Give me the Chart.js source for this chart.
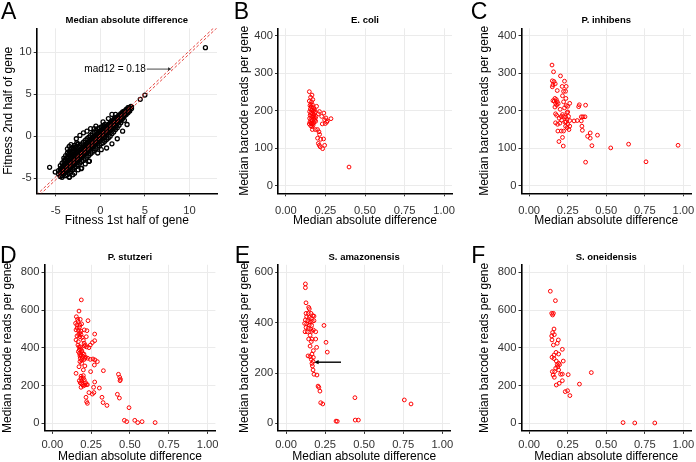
<!DOCTYPE html>
<html lang="en">
<head>
<meta charset="UTF-8">
<title>Median absolute difference vs barcode reads</title>
<script src="https://cdn.jsdelivr.net/npm/chart.js"></script>
<style>
  body { margin: 0; background: #fff; }
  .wrap { position: relative; width: 696px; height: 462px; }
  .wrap canvas { position: absolute; }
</style>
</head>
<body>
<div class="wrap">
  <canvas id="panelA" width="232" height="231" style="left:0;top:0"></canvas>
  <canvas id="panelB" width="232" height="231" style="left:232px;top:0"></canvas>
  <canvas id="panelC" width="232" height="231" style="left:464px;top:0"></canvas>
  <canvas id="panelD" width="232" height="231" style="left:0;top:231px"></canvas>
  <canvas id="panelE" width="232" height="231" style="left:232px;top:231px"></canvas>
  <canvas id="panelF" width="232" height="231" style="left:464px;top:231px"></canvas>
</div>
<script>
// tick values and labels
const fitTicks = [-5, 0, 5, 10];
const fitTickLabels = ['-5', '0', '5', '10'];
const madTicks = [0, 0.25, 0.5, 0.75, 1];
const madTickLabels = ['0.00', '0.25', '0.50', '0.75', '1.00'];
const reads400Ticks = [0, 100, 200, 300, 400];
const reads600Ticks = [0, 200, 400, 600];
const reads800Ticks = [0, 200, 400, 600, 800];

// panel A extras
const mad12 = 0.18;
const diagX = [-8, 14];
const madNote = [[5.1, 8], [8, 8]];      // label end -> diagonal
// panel E arrow
const amazonArrow = [[0.352, 243], [0.18, 243]];

// A: fitness 1st half vs 2nd half of gene
const fitnessPoints = [
  [-4.7,-4.5],[-4.7,-4.1],
  [-4.5,-4.4],[-4.5,-4.8],[-4.5,-3.9],[-4.5,-3.5],
  [-4.3,-4.2],[-4.3,-4.7],[-4.3,-3.7],[-4.3,-3.2],[-4.3,-4.9],
  [-4.1,-4.0],[-4.1,-4.5],[-4.1,-3.5],[-4.1,-3.0],[-4.1,-2.6],
  [-3.9,-3.8],[-3.9,-4.3],[-3.9,-3.3],[-3.9,-2.8],[-3.9,-2.3],[-3.9,-4.7],
  [-3.7,-3.6],[-3.7,-4.1],[-3.7,-3.1],[-3.7,-2.5],[-3.7,-2.0],[-3.7,-4.6],[-3.7,-1.5],
  [-3.5,-3.4],[-3.5,-3.9],[-3.5,-2.9],[-3.5,-2.3],[-3.5,-1.8],[-3.5,-4.4],[-3.5,-1.2],[-3.5,-4.9],
  [-3.3,-3.2],[-3.3,-3.7],[-3.3,-2.7],[-3.3,-2.1],[-3.3,-1.5],[-3.3,-4.2],[-3.3,-1.0],
  [-3.1,-3.0],[-3.1,-3.5],[-3.1,-2.5],[-3.1,-1.9],[-3.1,-1.3],[-3.1,-4.0],[-3.1,-4.6],
  [-2.9,-2.8],[-2.9,-3.3],[-2.9,-2.3],[-2.9,-1.7],[-2.9,-1.1],[-2.9,-3.8],[-2.9,-4.4],
  [-2.7,-2.6],[-2.7,-3.1],[-2.7,-2.1],[-2.7,-1.5],[-2.7,-0.3],[-2.7,-3.6],
  [-2.5,-2.4],[-2.5,-2.9],[-2.5,-1.9],[-2.5,-1.3],[-2.5,-0.9],[-2.5,-3.4],[-2.5,-4.0],
  [-2.3,-2.2],[-2.3,-2.7],[-2.3,-1.7],[-2.3,-1.1],[-2.3,-3.2],[-2.3,0.1],
  [-2.1,-2.0],[-2.1,-2.5],[-2.1,-1.5],[-2.1,-0.9],[-2.1,-3.0],[-2.1,-3.8],
  [-1.9,-1.8],[-1.9,-2.3],[-1.9,-1.3],[-1.9,-0.7],[-1.9,-2.9],[-1.9,0.4],
  [-1.7,-1.6],[-1.7,-2.1],[-1.7,-1.1],[-1.7,-0.5],[-1.7,-2.7],[-1.7,-3.3],
  [-1.5,-1.4],[-1.5,-1.9],[-1.5,-0.9],[-1.5,-0.3],[-1.5,-2.5],[-1.5,0.6],
  [-1.3,-1.2],[-1.3,-1.7],[-1.3,-0.7],[-1.3,-0.1],[-1.3,-2.3],[-1.3,-3.0],
  [-1.1,-1.0],[-1.1,-1.5],[-1.1,-0.5],[-1.1,0.1],[-1.1,-2.1],[-1.1,0.9],
  [-0.9,-0.8],[-0.9,-1.3],[-0.9,-0.3],[-0.9,0.3],[-0.9,-1.9],
  [-0.7,-0.6],[-0.7,-1.1],[-0.7,-0.1],[-0.7,0.5],[-0.7,-1.7],[-0.7,0.9],
  [-0.5,-0.4],[-0.5,-0.9],[-0.5,0.1],[-0.5,0.7],[-0.5,-1.5],[-0.5,1.2],
  [-0.3,-0.2],[-0.3,-0.7],[-0.3,0.3],[-0.3,0.9],[-0.3,-1.3],[-0.3,-2.0],
  [-0.1,0.0],[-0.1,-0.5],[-0.1,0.5],[-0.1,1.0],[-0.1,-1.1],
  [0.1,0.2],[0.1,-0.3],[0.1,0.7],[0.1,1.1],[0.1,-0.9],[0.1,-1.6],
  [0.3,0.3],[0.3,-0.2],[0.3,0.8],[0.3,1.2],[0.3,-0.8],[0.3,1.7],
  [0.5,0.5],[0.5,0.0],[0.5,1.0],[0.5,-0.6],[0.5,1.4],
  [0.7,0.7],[0.7,0.2],[0.7,1.2],[0.7,-0.4],[0.7,-1.4],
  [0.9,0.9],[0.9,0.4],[0.9,1.4],[0.9,-0.2],[0.9,2.1],
  [1.1,1.1],[1.1,0.6],[1.1,1.6],[1.1,0.0],
  [1.3,1.3],[1.3,0.8],[1.3,1.8],[1.3,0.3],[1.3,2.6],[1.3,-0.9],
  [1.5,1.5],[1.5,1.0],[1.5,2.0],[1.5,0.5],
  [1.7,1.7],[1.7,1.2],[1.7,2.2],[1.7,0.8],[1.7,2.6],
  [1.9,1.9],[1.9,1.5],[1.9,2.3],[1.9,1.0],[1.9,-0.3],
  [2.1,2.1],[2.1,1.7],[2.1,2.5],[2.1,1.3],
  [2.3,2.3],[2.3,1.9],[2.3,2.7],[2.3,1.6],
  [2.5,2.5],[2.5,2.1],[2.5,2.9],[2.5,0.6],
  [2.7,2.7],[2.7,2.4],[2.7,3.0],[2.7,1.9],
  [2.9,2.9],[2.9,2.6],[2.9,3.2],
  [3.1,3.1],[3.1,2.8],[3.1,3.4],[3.0,1.4],
  [3.3,3.3],[3.3,3.0],[3.43,3.56],
  [3.5,3.5],[3.5,3.3],
  // denser core
  [-4.4,-4.5],[-4.4,-3.9],[-4.4,-4.1],[-4.2,-4.3],[-4.2,-3.6],[-4.2,-4.0],
  [-4.0,-4.2],[-4.0,-3.3],[-4.0,-3.8],[-4.0,-2.8],[-3.8,-4.0],[-3.8,-3.2],[-3.8,-3.6],[-3.8,-2.6],
  [-3.6,-3.8],[-3.6,-3.0],[-3.6,-3.4],[-3.6,-2.2],[-3.4,-3.6],[-3.4,-2.8],[-3.4,-3.2],[-3.4,-2.0],
  [-3.2,-3.4],[-3.2,-2.6],[-3.2,-3.0],[-3.2,-1.8],[-3.0,-3.2],[-3.0,-2.4],[-3.0,-2.8],[-3.0,-1.5],
  [-2.8,-3.0],[-2.8,-2.2],[-2.8,-2.6],[-2.8,-1.3],[-2.6,-2.8],[-2.6,-2.0],[-2.6,-2.4],[-2.6,-1.0],
  [-2.4,-2.6],[-2.4,-1.8],[-2.4,-2.2],[-2.2,-2.4],[-2.2,-1.6],[-2.2,-2.0],
  [-2.0,-2.2],[-2.0,-1.4],[-2.0,-1.8],[-1.8,-2.0],[-1.8,-1.2],[-1.8,-1.6],
  [-1.6,-1.8],[-1.6,-1.0],[-1.6,-1.4],[-1.4,-1.6],[-1.4,-0.8],[-1.4,-1.2],
  [-1.2,-1.4],[-1.2,-0.6],[-1.2,-1.0],[-1.0,-1.2],[-1.0,-0.4],[-1.0,-0.8],
  [-0.8,-1.0],[-0.8,-0.2],[-0.8,-0.6],[-0.6,-0.8],[-0.6,0.0],[-0.6,-0.4],
  [-0.4,-0.6],[-0.4,0.2],[-0.4,-0.2],[-0.2,-0.4],[-0.2,0.4],[-0.2,0.0],
  [0.0,-0.2],[0.0,0.6],[0.0,0.2],[0.2,0.0],[0.2,0.8],[0.2,0.4],
  [0.4,0.2],[0.4,1.0],[0.4,0.6],[0.6,0.4],[0.6,1.1],[0.6,0.8],
  [0.8,0.6],[0.8,1.3],[0.8,1.0],[1.0,0.8],[1.0,1.4],[1.0,1.2],
  [1.2,1.0],[1.2,1.6],[1.2,1.4],[1.4,1.2],[1.4,1.8],[1.4,1.6],
  [1.6,1.4],[1.6,2.0],[1.6,1.8],[1.8,1.6],[1.8,2.1],[1.8,2.0],
  [2.0,1.8],[2.0,2.3],[2.0,2.2],[2.2,2.0],[2.2,2.5],[2.4,2.2],[2.4,2.7],
  [2.6,2.4],[2.6,2.9],[2.8,2.6],[2.8,3.0],[3.0,2.8],[3.0,3.2],[3.2,3.0],[3.2,3.4],
  // outliers
  [4.48,4.4],[5.0,4.9],[11.8,10.55],[-5.7,-3.7],[-5.07,-4.27],[-2.65,-0.8],
  [-2.16,-3.87],[-3.47,-4.86],[-1.23,-2.96]
];

// B: E. coli
const ecoliPoints = [
  [0.148,251],[0.156,236],[0.165,242],[0.148,226],[0.158,217],[0.170,230],[0.162,224],
  [0.152,214],[0.160,210],[0.168,216],[0.175,208],[0.155,205],[0.165,202],[0.172,198],
  [0.180,204],[0.150,198],[0.158,194],[0.168,192],[0.176,190],[0.185,196],[0.153,188],
  [0.162,185],[0.170,183],[0.178,186],[0.150,180],[0.158,176],[0.166,174],[0.175,178],
  [0.183,175],[0.152,170],[0.160,167],[0.168,165],[0.176,168],[0.157,160],[0.165,158],
  [0.172,162],[0.190,185],[0.188,172],[0.194,212],[0.179,201],[0.205,192],[0.212,198],
  [0.240,194],[0.226,185],[0.253,181],[0.285,179],[0.262,173],[0.249,166],[0.230,165],
  [0.245,176],[0.258,170],[0.186,180],[0.162,166],[0.148,165],[0.167,150],[0.186,150],
  [0.200,150],[0.209,144],[0.213,137],[0.200,127],[0.220,124],[0.238,125],[0.205,113],
  [0.211,108],[0.245,108],[0.217,104],[0.232,99],[0.399,50]
];

// C: P. inhibens
const inhibensPoints = [
  [0.148,322],[0.158,304],[0.150,280],[0.161,278],[0.154,269],[0.150,264],[0.169,272],
  [0.203,293],[0.229,279],[0.214,265],[0.240,265],[0.223,252],[0.182,254],[0.216,240],
  [0.236,252],[0.167,233],[0.176,230],[0.163,226],[0.182,224],[0.154,227],[0.171,220],
  [0.178,215],[0.188,219],[0.167,210],[0.223,224],[0.238,233],[0.263,220],[0.240,214],
  [0.229,208],[0.250,212],[0.201,204],[0.171,192],[0.178,188],[0.216,190],[0.208,185],
  [0.223,185],[0.236,183],[0.250,197],[0.246,177],[0.240,171],[0.263,174],[0.250,164],
  [0.236,159],[0.263,159],[0.171,168],[0.184,164],[0.199,167],[0.186,146],[0.208,146],
  [0.223,146],[0.246,155],[0.193,118],[0.221,106],[0.216,129],[0.255,185],[0.258,150],
  [0.232,170],[0.195,180],[0.210,175],[0.245,195],
  [0.291,173],[0.312,174],[0.321,211],[0.325,216],[0.366,215],[0.338,184],[0.349,184],
  [0.362,184],[0.338,173],[0.342,159],[0.345,148],[0.396,141],[0.379,132],[0.396,127],
  [0.443,135],[0.407,107],[0.366,63],[0.529,101],[0.645,111],[0.758,64],[0.966,108]
];

// D: P. stutzeri
const stutzeriPoints = [
  [0.187,654],[0.172,595],[0.230,544],[0.155,565],[0.163,551],[0.180,551],[0.150,530],
  [0.159,521],[0.178,521],[0.189,527],[0.153,495],[0.168,491],[0.185,489],[0.206,495],
  [0.223,491],[0.159,463],[0.178,459],[0.219,459],[0.153,442],[0.168,433],[0.273,473],
  [0.273,438],[0.258,428],[0.245,415],[0.236,401],[0.206,410],[0.180,406],[0.174,389],
  [0.189,380],[0.204,367],[0.178,357],[0.193,345],[0.210,345],[0.228,345],[0.245,339],
  [0.262,341],[0.275,336],[0.290,327],[0.271,309],[0.178,327],[0.189,318],[0.210,304],
  [0.200,283],[0.172,300],[0.247,274],[0.329,279],[0.153,265],[0.200,253],[0.185,239],
  [0.206,230],[0.273,219],[0.174,226],[0.189,212],[0.210,203],[0.226,205],[0.185,191],
  [0.200,198],[0.266,191],[0.303,187],[0.268,163],[0.236,163],[0.258,155],[0.217,138],
  [0.221,115],[0.226,106],[0.320,138],[0.327,110],[0.352,95],[0.426,260],[0.434,244],
  [0.439,233],[0.436,226],[0.419,154],[0.432,134],[0.494,83],[0.464,16],[0.479,9],
  [0.531,16],[0.550,4],[0.578,9],[0.662,4],
  [0.165,415],[0.172,405],[0.182,395],[0.190,385],[0.175,370],[0.185,362],[0.195,372],
  [0.168,380],[0.180,345],[0.188,335],[0.198,355],[0.205,338],[0.215,350],[0.170,470],
  [0.178,480],[0.160,505],[0.165,540],[0.175,510],[0.185,470],[0.192,455],[0.200,440],
  [0.205,425],[0.212,415],[0.220,405],[0.180,215],[0.190,225],[0.195,205],[0.200,240],
  [0.185,250],[0.215,215],[0.220,205]
];

// E: S. amazonensis
const amazonensisPoints = [
  [0.124,554],[0.124,539],[0.128,479],[0.145,461],[0.149,455],[0.128,437],[0.143,437],
  [0.160,437],[0.171,428],[0.132,424],[0.149,421],[0.162,417],[0.179,426],[0.124,411],
  [0.139,408],[0.154,403],[0.168,405],[0.179,408],[0.119,397],[0.132,395],[0.149,391],
  [0.164,389],[0.128,381],[0.143,377],[0.158,374],[0.175,371],[0.122,364],[0.136,364],
  [0.166,366],[0.190,364],[0.243,389],[0.154,350],[0.145,335],[0.166,335],[0.190,335],
  [0.162,325],[0.256,322],[0.154,307],[0.196,302],[0.175,289],[0.264,283],[0.166,275],
  [0.141,268],[0.154,265],[0.175,262],[0.162,254],[0.173,246],[0.166,238],[0.169,228],
  [0.173,212],[0.179,195],[0.198,192],[0.205,148],[0.210,143],[0.217,128],[0.222,82],
  [0.235,77],[0.320,9],[0.328,8],[0.441,102],[0.443,13],[0.463,13],[0.757,93],[0.800,77]
];

// F: S. oneidensis
const oneidensisPoints = [
  [0.137,700],[0.170,650],[0.146,583],[0.157,583],[0.152,574],[0.161,500],[0.152,481],
  [0.163,470],[0.146,463],[0.148,442],[0.189,442],[0.182,424],[0.157,415],[0.215,392],
  [0.174,376],[0.191,367],[0.161,362],[0.148,350],[0.161,343],[0.221,330],[0.176,330],
  [0.191,318],[0.182,311],[0.197,311],[0.185,300],[0.172,292],[0.191,283],[0.150,274],
  [0.165,274],[0.403,269],[0.204,260],[0.253,258],[0.215,261],[0.155,256],[0.163,244],
  [0.215,226],[0.195,212],[0.176,203],[0.326,208],[0.234,168],[0.249,173],[0.264,147],
  [0.609,4],[0.685,2],[0.815,2]
];

const FONT = '"Liberation Sans", Arial, Helvetica, sans-serif';
Chart.defaults.font.family = FONT;

function drawArrow(ctx, x1, y1, x2, y2, color, width, head) {
  // arrow from (x1,y1) to (x2,y2), head at the second point
  const ang = Math.atan2(y2 - y1, x2 - x1);
  ctx.strokeStyle = color;
  ctx.fillStyle = color;
  ctx.lineWidth = width;
  ctx.beginPath();
  ctx.moveTo(x1, y1);
  ctx.lineTo(x2 - Math.cos(ang) * head * 0.6, y2 - Math.sin(ang) * head * 0.6);
  ctx.stroke();
  ctx.beginPath();
  ctx.moveTo(x2, y2);
  ctx.lineTo(x2 - head * Math.cos(ang - 0.45), y2 - head * Math.sin(ang - 0.45));
  ctx.lineTo(x2 - head * Math.cos(ang + 0.45), y2 - head * Math.sin(ang + 0.45));
  ctx.closePath();
  ctx.fill();
}

const panelText = {
  id: 'panelText',
  afterDraw(chart, args, o) {
    const ctx = chart.ctx;
    const a = chart.chartArea;
    const xs = chart.scales.x, ys = chart.scales.y;
    const cx = (a.left + a.right) / 2, cy = (a.top + a.bottom) / 2;
    ctx.save();
    ctx.fillStyle = '#000';
    ctx.font = '23px ' + FONT;
    ctx.textAlign = 'left';
    ctx.textBaseline = 'alphabetic';
    ctx.fillText(o.letter, o.letterX, o.letterY);

    ctx.font = 'bold 9.5px ' + FONT;
    ctx.textAlign = 'center';
    ctx.textBaseline = 'middle';
    ctx.fillText(o.title, cx, o.titleY);

    ctx.font = '12px ' + FONT;
    ctx.fillText(o.xTitle, cx, a.bottom + o.xTitleGap);
    ctx.save();
    ctx.translate(o.yTitleX, cy);
    ctx.rotate(-Math.PI / 2);
    ctx.fillText(o.yTitle, 0, 0);
    ctx.restore();

    if (o.note) {
      const p0 = o.note.at[0], p1 = o.note.at[1];
      const x0 = xs.getPixelForValue(p0[0]), y0 = ys.getPixelForValue(p0[1]);
      const x1 = xs.getPixelForValue(p1[0]), y1 = ys.getPixelForValue(p1[1]);
      ctx.font = '10px ' + FONT;
      ctx.textAlign = 'right';
      ctx.fillStyle = '#000';
      ctx.fillText(o.note.text, x0, y0);
      drawArrow(ctx, x0 + 1, y0, x1, y1, '#333', 0.9, 4);
    }
    if (o.arrow) {
      const p0 = o.arrow[0], p1 = o.arrow[1];
      drawArrow(ctx, xs.getPixelForValue(p0[0]), ys.getPixelForValue(p0[1]),
        xs.getPixelForValue(p1[0]), ys.getPixelForValue(p1[1]), '#000', 1.4, 5);
    }
    ctx.restore();
  }
};

function axis(cfg, fit) {
  return {
    type: 'linear',
    min: cfg.min,
    max: cfg.max,
    afterBuildTicks: s => { s.ticks = cfg.ticks.map(v => ({ value: v })); },
    afterFit: fit,
    ticks: {
      callback: v => cfg.labels[cfg.ticks.indexOf(v)],
      color: '#333',
      font: { size: 11.2 },
      padding: cfg.pad,
      autoSkip: false,
      maxRotation: 0
    },
    grid: { color: '#ebebeb', lineWidth: 1, tickColor: '#333', tickLength: 3, tickWidth: 1 },
    border: { display: true, color: '#000', width: 1.6 }
  };
}

function makePanel(id, geo, xCfg, yCfg, datasets, text) {
  new Chart(document.getElementById(id), {
    type: 'scatter',
    data: { datasets: datasets },
    options: {
      responsive: false,
      animation: false,
      devicePixelRatio: 1,
      events: [],
      layout: { padding: { top: geo.top, right: 232 - geo.right, left: 0, bottom: 0 } },
      plugins: { legend: { display: false }, tooltip: { enabled: false }, panelText: text },
      scales: {
        x: axis(xCfg, s => { s.height = 231 - geo.bottom; s.paddingLeft = 0; s.paddingRight = 0; }),
        y: axis(yCfg, s => { s.width = geo.left; s.paddingTop = 0; s.paddingBottom = 0; })
      }
    },
    plugins: [panelText]
  });
}

function pointsSet(pts, color, r, bw) {
  return {
    data: pts.map(p => ({ x: p[0], y: p[1] })),
    pointRadius: r,
    borderWidth: bw,
    borderColor: color,
    backgroundColor: 'rgba(0,0,0,0)',
    order: 1
  };
}

function diagSet(offset) {
  return {
    data: diagX.map(v => ({ x: v, y: v + offset })),
    showLine: true,
    pointRadius: 0,
    borderColor: '#e3312d',
    borderWidth: 0.9,
    borderDash: [3, 2],
    order: 0
  };
}

const madX = { min: -0.05, max: 1.05, ticks: madTicks, labels: madTickLabels, pad: 8 };
const madX2 = { min: -0.05, max: 1.05, ticks: madTicks, labels: madTickLabels, pad: 4 };
const yLabel = 'Median barcode reads per gene';
const xLabel = 'Median absolute difference';

makePanel('panelA', { left: 36.7, right: 217, top: 28.3, bottom: 193.3 },
  { min: -7.15, max: 13.1, ticks: fitTicks, labels: fitTickLabels, pad: 8 },
  { min: -6.8, max: 12.86, ticks: fitTicks, labels: fitTickLabels, pad: 2 },
  [diagSet(mad12), diagSet(-mad12), pointsSet(fitnessPoints, '#000', 2.0, 1.3)],
  { letter: 'A', letterX: 1, letterY: 18.5, title: 'Median absolute difference', titleY: 20,
    xTitle: 'Fitness 1st half of gene', xTitleGap: 27.5,
    yTitle: 'Fitness 2nd half of gene', yTitleX: 8.3,
    note: { text: 'mad12 = ' + mad12.toFixed(2), at: madNote } });

makePanel('panelB', { left: 46, right: 220, top: 28.3, bottom: 193.3 }, madX,
  { min: -20, max: 420, ticks: reads400Ticks, labels: reads400Ticks.map(String), pad: 2 },
  [pointsSet(ecoliPoints, '#f00', 1.9, 1)],
  { letter: 'B', letterX: 1.7, letterY: 18.5, title: 'E. coli', titleY: 20,
    xTitle: xLabel, xTitleGap: 27.5, yTitle: yLabel, yTitleX: 12.7 });

makePanel('panelC', { left: 57.5, right: 229, top: 28.3, bottom: 193.3 }, madX,
  { min: -20, max: 420, ticks: reads400Ticks, labels: reads400Ticks.map(String), pad: 2 },
  [pointsSet(inhibensPoints, '#f00', 1.9, 1)],
  { letter: 'C', letterX: 6.7, letterY: 18.5, title: 'P. inhibens', titleY: 20,
    xTitle: xLabel, xTitleGap: 27.5, yTitle: yLabel, yTitleX: 20.7 });

makePanel('panelD', { left: 44.5, right: 215.4, top: 33.8, bottom: 199.9 }, madX2,
  { min: -40, max: 840, ticks: reads800Ticks, labels: reads800Ticks.map(String), pad: 2 },
  [pointsSet(stutzeriPoints, '#f00', 1.9, 1)],
  { letter: 'D', letterX: 0, letterY: 31.5, title: 'P. stutzeri', titleY: 26,
    xTitle: xLabel, xTitleGap: 25.3, yTitle: yLabel, yTitleX: 7.3 });

makePanel('panelE', { left: 46.2, right: 218.1, top: 33.8, bottom: 199.9 }, madX2,
  { min: -30, max: 630, ticks: reads600Ticks, labels: reads600Ticks.map(String), pad: 2 },
  [pointsSet(amazonensisPoints, '#f00', 1.9, 1)],
  { letter: 'E', letterX: 2.7, letterY: 31.5, title: 'S. amazonensis', titleY: 26,
    xTitle: xLabel, xTitleGap: 25.3, yTitle: yLabel, yTitleX: 12.3, arrow: amazonArrow });

makePanel('panelF', { left: 57.5, right: 228.4, top: 33.8, bottom: 199.9 }, madX2,
  { min: -40, max: 840, ticks: reads800Ticks, labels: reads800Ticks.map(String), pad: 2 },
  [pointsSet(oneidensisPoints, '#f00', 1.9, 1)],
  { letter: 'F', letterX: 7.3, letterY: 31.5, title: 'S. oneidensis', titleY: 26,
    xTitle: xLabel, xTitleGap: 25.3, yTitle: yLabel, yTitleX: 20.7 });
</script>
</body>
</html>
